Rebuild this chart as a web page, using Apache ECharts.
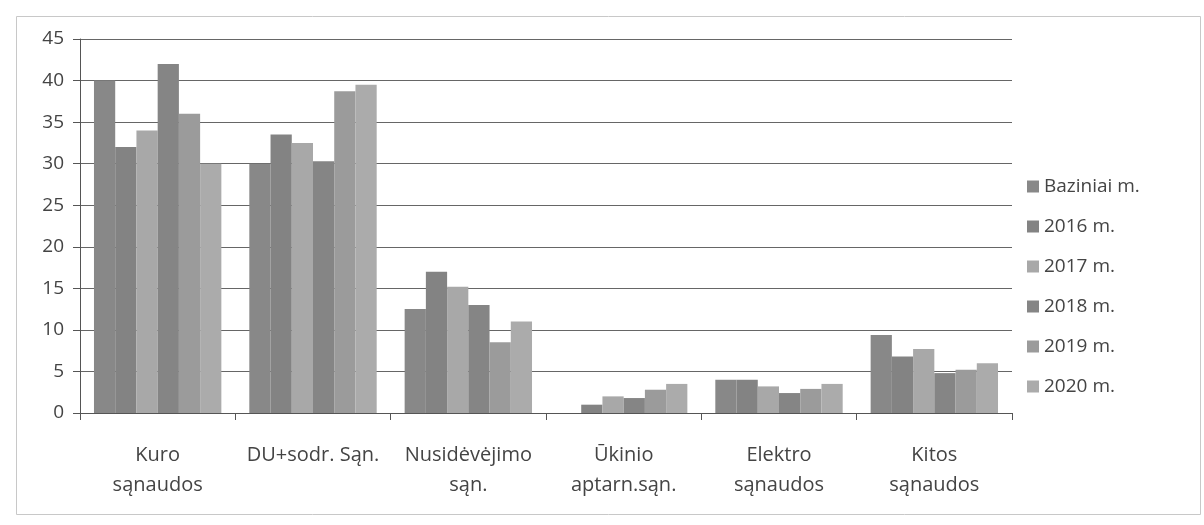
<!DOCTYPE html>
<html><head><meta charset="utf-8">
<script src="https://cdn.jsdelivr.net/npm/echarts@6/dist/echarts.min.js"></script>
<style>html,body{margin:0;padding:0;background:#fff}#c{width:1204px;height:525px}</style>
</head><body><div id="c"></div>
<script>
const categories = ["Kuro\nsąnaudos", "DU+sodr. Sąn.", "Nusidėvėjimo\nsąn.", "Ūkinio\naptarn.sąn.", "Elektro\nsąnaudos", "Kitos\nsąnaudos"];
const seriesNames = ["Baziniai m.", "2016 m.", "2017 m.", "2018 m.", "2019 m.", "2020 m."];
const baziniai = [40, 30, 12.5, 0, 4, 9.4];
const y2016 = [32, 33.5, 17, 1, 4, 6.8];
const y2017 = [34, 32.5, 15.2, 2, 3.2, 7.7];
const y2018 = [42, 30.3, 13, 1.8, 2.4, 4.8];
const y2019 = [36, 38.7, 8.5, 2.8, 2.9, 5.2];
const y2020 = [30, 39.5, 11, 3.5, 3.5, 6];
const colors = ["#888888", "#838383", "#a8a8a8", "#858585", "#9b9b9b", "#ababab"];
const values = [baziniai, y2016, y2017, y2018, y2019, y2020];

const chart = echarts.init(document.getElementById('c'));
const font = "'Open Sans', 'DejaVu Sans', sans-serif";
chart.setOption({
  animation: false,
  backgroundColor: '#fff',
  color: colors,
  graphic: [{
    type: 'rect', left: 14, top: 14, shape: {width: 1184, height: 498},
    style: {fill: 'none', stroke: '#c8c8c8', lineWidth: 1}
  }],
  legend: {
    orient: 'vertical', left: 1022, top: 172, itemGap: 21,
    itemWidth: 12, itemHeight: 12, icon: 'rect',
    textStyle: {fontFamily: font, fontSize: 19, color: '#444'},
    data: seriesNames
  },
  grid: {left: 80, right: 192, top: 39, bottom: 112, containLabel: false},
  xAxis: {
    type: 'category', data: categories,
    axisLine: {lineStyle: {color: '#555', width: 1}},
    axisTick: {show: true, length: 7, lineStyle: {color: '#555'}},
    axisLabel: {fontFamily: font, fontSize: 20, color: '#444', margin: 27, lineHeight: 30, interval: 0}
  },
  yAxis: {
    type: 'value', min: 0, max: 45, interval: 5,
    axisLine: {show: true, lineStyle: {color: '#555'}},
    axisTick: {show: true, length: 7, lineStyle: {color: '#555'}},
    splitLine: {lineStyle: {color: '#666', width: 1.2}},
    axisLabel: {fontFamily: font, fontSize: 19, color: '#444', margin: 16}
  },
  series: seriesNames.map((n, i) => ({
    name: n, type: 'bar', data: values[i],
    barGap: '0%', barCategoryGap: '18%'
  }))
});
</script></body></html>
